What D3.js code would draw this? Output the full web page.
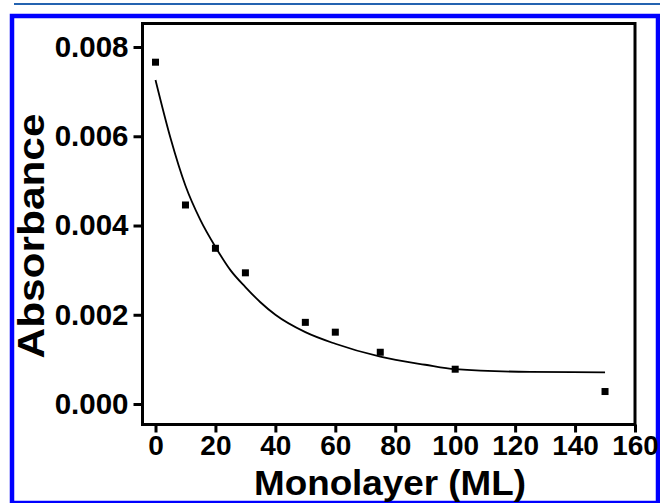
<!DOCTYPE html>
<html><head><meta charset="utf-8">
<script src="https://cdn.jsdelivr.net/npm/d3@7"></script>
<style>html,body{margin:0;padding:0;background:#fff;}svg{display:block;}</style>
</head><body>
<script>
// Data
const xValues = [0, 10, 20, 30, 50, 60, 75, 100, 150];
const absorbance = [0.00766, 0.00446, 0.00349, 0.00294, 0.00183, 0.00161, 0.00116, 0.00078, 0.00028];
const fitX = [0, 5, 10, 15, 20, 25, 30, 35, 40, 50, 60, 75, 90, 100, 125, 150];
const fitY = [0.00726, 0.00596, 0.00489, 0.00412, 0.00352, 0.00300, 0.00262, 0.00228, 0.00200, 0.00161, 0.00135, 0.00106, 0.00088, 0.00078, 0.00072, 0.00071];
const xTicks = [0, 20, 40, 60, 80, 100, 120, 140, 160];
const yTicks = [0.000, 0.002, 0.004, 0.006, 0.008];

const W = 660, H = 503;
const svg = d3.select("body").append("svg").attr("width", W).attr("height", H);
const font = "'Liberation Sans', Arial, sans-serif";

// decorative top line and blue frame
svg.append("line").attr("x1", 14).attr("x2", 660).attr("y1", 4).attr("y2", 4)
  .attr("stroke", "#2463b0").attr("stroke-width", 2);
svg.append("rect").attr("x", 12).attr("y", 16).attr("width", 646).attr("height", 487)
  .attr("fill", "none").attr("stroke", "#0000ff").attr("stroke-width", 4.5);

const L = 142.5, R = 635, T = 23.5, B = 424.5;
const x = d3.scaleLinear().domain([-4.34, 160]).range([L, R]);
const y = d3.scaleLinear().domain([-0.000459, 0.008527]).range([B, T]);

// axes
const xAxis = svg.append("g").attr("transform", `translate(0,${B})`)
  .call(d3.axisBottom(x).tickValues(xTicks).tickSize(8).tickPadding(3).tickFormat(d3.format("d")));
const yAxis = svg.append("g").attr("transform", `translate(${L},0)`)
  .call(d3.axisLeft(y).tickValues(yTicks).tickSize(9).tickPadding(5).tickFormat(d3.format(".3f")));
[xAxis, yAxis].forEach(g => {
  g.select(".domain").remove();
  g.selectAll(".tick line").attr("stroke", "#000").attr("stroke-width", 3);
  g.selectAll(".tick text").attr("fill", "#000").attr("font-family", font)
    .attr("font-weight", "bold");
});
xAxis.selectAll(".tick text").attr("font-size", 28);
yAxis.selectAll(".tick text").attr("font-size", 29.5);

// frame
svg.append("rect").attr("x", L).attr("y", T).attr("width", R - L).attr("height", B - T)
  .attr("fill", "none").attr("stroke", "#000").attr("stroke-width", 3);

// fit curve
const line = d3.line().x((d, i) => x(fitX[i])).y(d => y(d)).curve(d3.curveMonotoneX);
svg.append("path").datum(fitY).attr("d", line).attr("fill", "none")
  .attr("stroke", "#000").attr("stroke-width", 1.8);

// points
svg.append("g").selectAll("rect").data(absorbance).join("rect")
  .attr("x", (d, i) => x(xValues[i]) - 3.5).attr("y", d => y(d) - 3.5)
  .attr("width", 7).attr("height", 7).attr("fill", "#000");

// titles
svg.append("text").attr("x", 390).attr("y", 495).attr("text-anchor", "middle")
  .attr("font-family", font).attr("font-weight", "bold").attr("font-size", 35)
  .attr("textLength", 272).attr("lengthAdjust", "spacingAndGlyphs")
  .text("Monolayer (ML)");
svg.append("text").attr("transform", "translate(44,236) rotate(-90)").attr("text-anchor", "middle")
  .attr("font-family", font).attr("font-weight", "bold").attr("font-size", 37)
  .attr("textLength", 245).attr("lengthAdjust", "spacingAndGlyphs")
  .text("Absorbance");
</script>
</body></html>
